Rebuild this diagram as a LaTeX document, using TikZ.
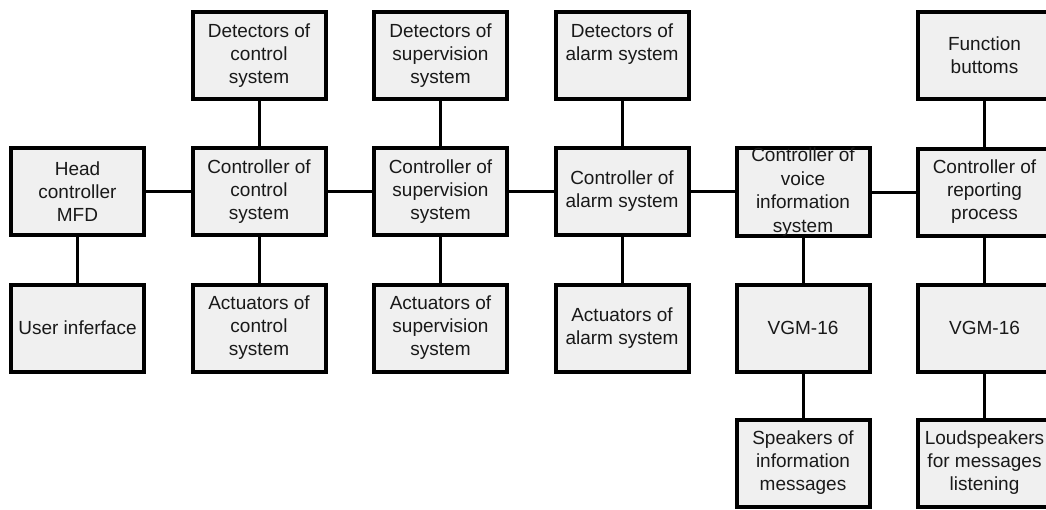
\documentclass[tikz,border=0pt]{standalone}
\usepackage{fontspec}
\setmainfont{Liberation Sans}
\definecolor{boxfill}{RGB}{240,240,240}
\definecolor{txt}{RGB}{25,25,25}
\tikzset{
  blk/.style={draw=black, fill=boxfill, line width=4pt, minimum width=133pt,
    minimum height=87pt, inner sep=0pt, align=center, text=txt,
    font=\fontsize{19}{23}\selectfont},
  link/.style={line width=3pt, draw=black}
}
\begin{document}
\begin{tikzpicture}[x=1pt,y=-1pt]
\useasboundingbox (0,0) rectangle (1046,509);
\clip (0,0) rectangle (1046,509);
% row 0
\node[blk] (dc) at (259,55.5) {Detectors of\\control\\system};
\node[blk] (ds) at (440.5,55.5) {Detectors of\\supervision\\system};
\node[blk] (da) at (622,55.5) {Detectors of\\alarm system\\\phantom{y}};
\node[blk] (fb) at (984.5,55.5) {Function\\buttoms};
% row 1
\node[blk] (hc) at (77.5,191.5) {Head\\controller\\MFD};
\node[blk] (cc) at (259,191.5) {Controller of\\control\\system};
\node[blk] (cs) at (440.5,191.5) {Controller of\\supervision\\system};
\node[blk] (ca) at (622,191.5) {Controller of\\alarm system};
\node[blk, font=\fontsize{19}{23.6}\selectfont] (cv) at (803,192) {Controller of\\voice\\information\\system};
\node[blk] (cr) at (984.5,192) {Controller of\\reporting\\process};
% row 2
\node[blk] (ui) at (77.5,328) {User inferface};
\node[blk] (ac) at (259,328) {Actuators of\\control\\system};
\node[blk] (as) at (440.5,328) {Actuators of\\supervision\\system};
\node[blk] (aa) at (622,328) {Actuators of\\alarm system};
\node[blk] (v1) at (803,328) {VGM-16};
\node[blk] (v2) at (984.5,328) {VGM-16};
% row 3
\node[blk] (sp) at (803,463) {Speakers of\\information\\messages};
\node[blk] (ls) at (984.5,463) {Loudspeakers\\for messages\\listening};
% connectors
\draw[link] (hc) -- (cc);
\draw[link] (cc) -- (cs);
\draw[link] (cs) -- (ca);
\draw[link] (ca.east) -- (cv.west |- ca.east);
\draw[link] (cv) -- (cr);
\draw[link] (dc) -- (cc);
\draw[link] (ds) -- (cs);
\draw[link] (da) -- (ca);
\draw[link] (fb) -- (cr);
\draw[link] (hc) -- (ui);
\draw[link] (cc) -- (ac);
\draw[link] (cs) -- (as);
\draw[link] (ca) -- (aa);
\draw[link] (cv) -- (v1);
\draw[link] (cr) -- (v2);
\draw[link] (v1) -- (sp);
\draw[link] (v2) -- (ls);
\end{tikzpicture}
\end{document}
